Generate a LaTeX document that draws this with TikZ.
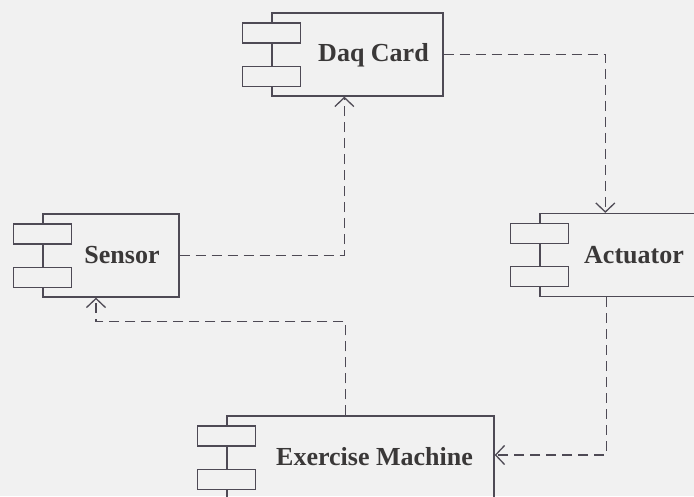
\documentclass[tikz,border=0pt]{standalone}
\usepackage{fontspec}
\setmainfont{Liberation Serif}
\usetikzlibrary{arrows.meta}
\definecolor{bgcol}{HTML}{F1F1F1}
\definecolor{linecol}{HTML}{4E4A55}
\definecolor{textcol}{HTML}{3A3838}

\begin{document}
\begin{tikzpicture}[x=1pt, y=-1pt, >={Straight Barb[length=9pt,width=19pt]},
  compbox/.style={draw=linecol, line width=1.3pt, minimum height=83pt, inner sep=0pt},
  port/.style={draw=linecol, fill=bgcol, line width=1.3pt, minimum width=58pt, minimum height=20pt, inner sep=0pt},
  lbl/.style={text=textcol, inner sep=0pt, font=\bfseries\fontsize{26}{30}\selectfont},
  dep/.style={draw=linecol, line width=1.3pt, dash pattern=on 10pt off 6pt, ->}]
\fill[bgcol] (0,0) rectangle (694,496);
\clip (0,0) rectangle (694,496);

\node[compbox, minimum width=171pt] (daq) at (357.5,54.5) {};
\node[compbox, minimum width=136pt] (sen) at (111,255.5) {};
\node[compbox, minimum width=190pt] (act) at (635,255) {};
\node[compbox, minimum width=267pt] (ex)  at (360.5,457.5) {};

\node[lbl] (daq-t) at (373.5,55) {Daq Card};
\node[lbl] (sen-t) at (122,255) {Sensor};
\node[lbl] (act-t) at (634,255) {Actuator};
\node[lbl] (ex-t)  at (374.5,457) {Exercise Machine};

\foreach \c in {daq,sen,act,ex}{
    \node[port] (\c-p1) at ([yshift=-20.5pt]\c.north west) {};
    \node[port] (\c-p2) at ([yshift=20.5pt]\c.south west) {};
}

\draw[dep] (daq.east) -| ([xshift=66pt]act.north west);
\draw[dep] (sen.east) -| ([xshift=73pt]daq.south west);
\draw[dep] ([xshift=67pt]act.south west) |- ([yshift=2.5pt]ex.east);
\draw[dep] ([xshift=119pt]ex.north west) -- ++(0,-94) -| ([xshift=-15pt]sen.south);
\end{tikzpicture}
\end{document}
